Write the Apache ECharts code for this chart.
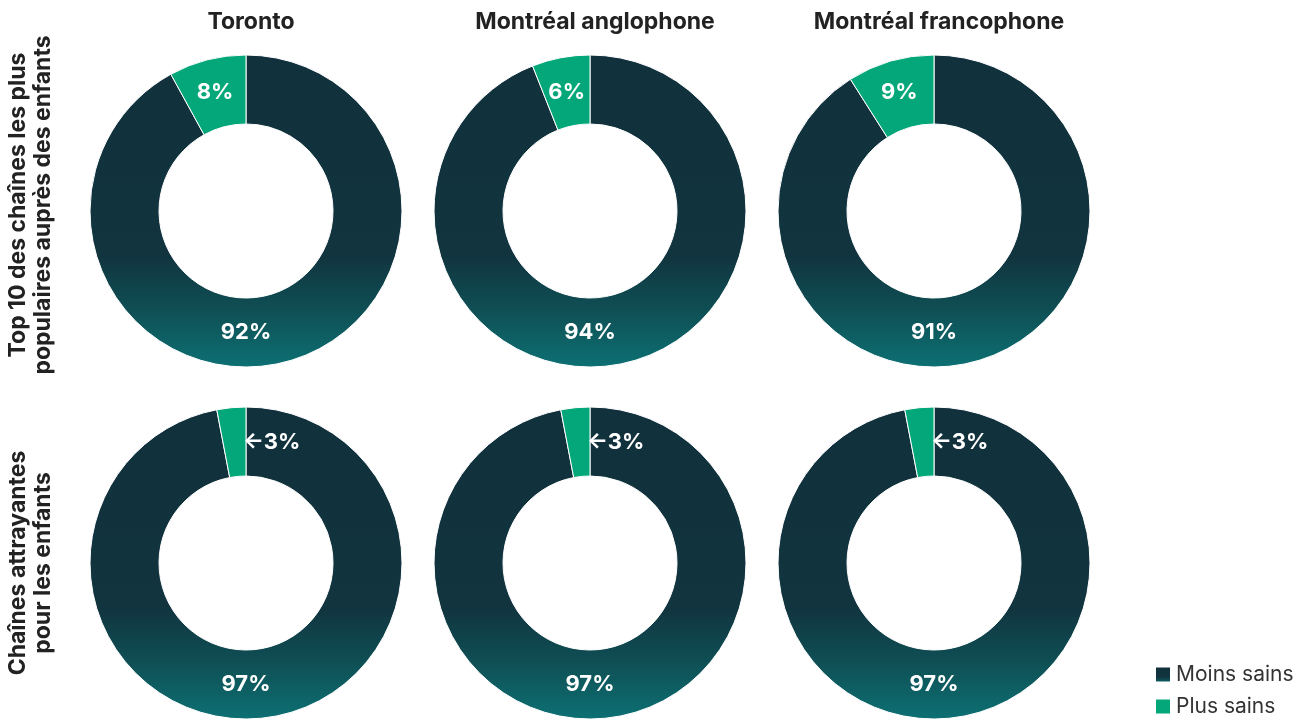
<!DOCTYPE html>
<html lang="fr">
<head>
<meta charset="utf-8">
<title>Chaînes les plus populaires auprès des enfants</title>
<script src="https://cdn.jsdelivr.net/npm/echarts@6/dist/echarts.min.js"></script>
<style>
  html, body { margin: 0; padding: 0; background: #ffffff; }
  #chart { width: 1308px; height: 721px; }
</style>
</head>
<body>
<div id="chart"></div>
<script>
// Column headers (markets) and row headers (channel groups)
const cities = ['Toronto', 'Montréal anglophone', 'Montréal francophone'];
const rowLabels = [
  'Top 10 des chaînes les plus\npopulaires auprès des enfants',
  'Chaînes attrayantes\npour les enfants'
];
const categories = ['Moins sains', 'Plus sains'];

// Share of products (%) per row, one value per city
const moinsSains = [
  [92, 94, 91],
  [97, 97, 97]
];
const plusSains = [
  [8, 6, 9],
  [3, 3, 3]
];

const FONT = 'Inter, "Noto Sans", sans-serif';
const DARK = '#11323d';
const GREEN = '#04a779';
const TEXT = '#222222';

// Grid of donut positions
const colX = [246, 590, 934];
const rowY = [211, 563];
const rowLabelY = [205, 563];
const R0 = 87, R1 = 156;
const MID = (R0 + R1) / 2;

// Dark ring fading to teal towards its lower edge
const darkFill = new echarts.graphic.LinearGradient(0, 0, 0, 1, [
  { offset: 0, color: '#11313c' },
  { offset: 0.64, color: '#11343f' },
  { offset: 0.82, color: '#0f5055' },
  { offset: 1, color: '#0c7073' }
]);

const series = [];
rowY.forEach(function (cy, r) {
  colX.forEach(function (cx, c) {
    series.push({
      type: 'pie',
      name: cities[c],
      center: [cx, cy],
      radius: [R0, R1],
      startAngle: 90,
      clockwise: true,
      silent: true,
      avoidLabelOverlap: false,
      itemStyle: { borderColor: '#ffffff', borderWidth: 1 },
      label: {
        show: true,
        position: 'inside',
        color: '#ffffff',
        fontFamily: FONT,
        fontWeight: 'bold',
        fontSize: 22,
        formatter: function (p) {
          return (p.dataIndex === 1 && p.value < 5 ? '←' : '') + p.value + '%';
        }
      },
      labelLine: { show: false },
      // Large share label sits at the bottom of the ring; a thin slice gets
      // its label beside it, pointing back with an arrow.
      labelLayout: function (p) {
        if (p.dataIndex === 0) {
          return { x: cx, y: cy + MID, align: 'center', verticalAlign: 'middle' };
        }
        if (plusSains[r][c] < 5) {
          return { x: cx - 3, y: cy - MID + 1, align: 'left', verticalAlign: 'middle' };
        }
        return { y: cy - MID + 3 };
      },
      data: [
        { name: categories[0], value: moinsSains[r][c], itemStyle: { color: darkFill } },
        { name: categories[1], value: plusSains[r][c], itemStyle: { color: GREEN } }
      ]
    });
  });
});

const titles = cities.map(function (name, c) {
  return {
    text: name,
    left: colX[c],
    top: 6,
    textAlign: 'center',
    textStyle: { fontFamily: FONT, fontWeight: 'bold', fontSize: 23, color: TEXT }
  };
});

const rowTexts = rowLabels.map(function (txt, r) {
  return {
    type: 'text',
    x: 31,
    y: rowLabelY[r],
    rotation: Math.PI / 2,
    style: {
      text: txt,
      fontFamily: FONT,
      fontWeight: 'bold',
      fontSize: 23,
      lineHeight: 25,
      fill: TEXT,
      align: 'center',
      verticalAlign: 'middle'
    }
  };
});

// One legend block per category, stacked in the lower right corner
const legendTops = [664, 696];
const legends = categories.map(function (name, i) {
  return {
    left: 1154,
    top: legendTops[i],
    padding: 0,
    icon: 'rect',
    itemWidth: 16,
    itemHeight: 16,
    selectedMode: false,
    data: [name],
    textStyle: { fontFamily: FONT, fontSize: 21, color: '#333333' }
  };
});

const chart = echarts.init(document.getElementById('chart'), null, { renderer: 'canvas' });
chart.setOption({
  animation: false,
  backgroundColor: '#ffffff',
  title: titles,
  legend: legends,
  color: [DARK, GREEN],
  graphic: rowTexts,
  series: series
});
</script>
</body>
</html>
